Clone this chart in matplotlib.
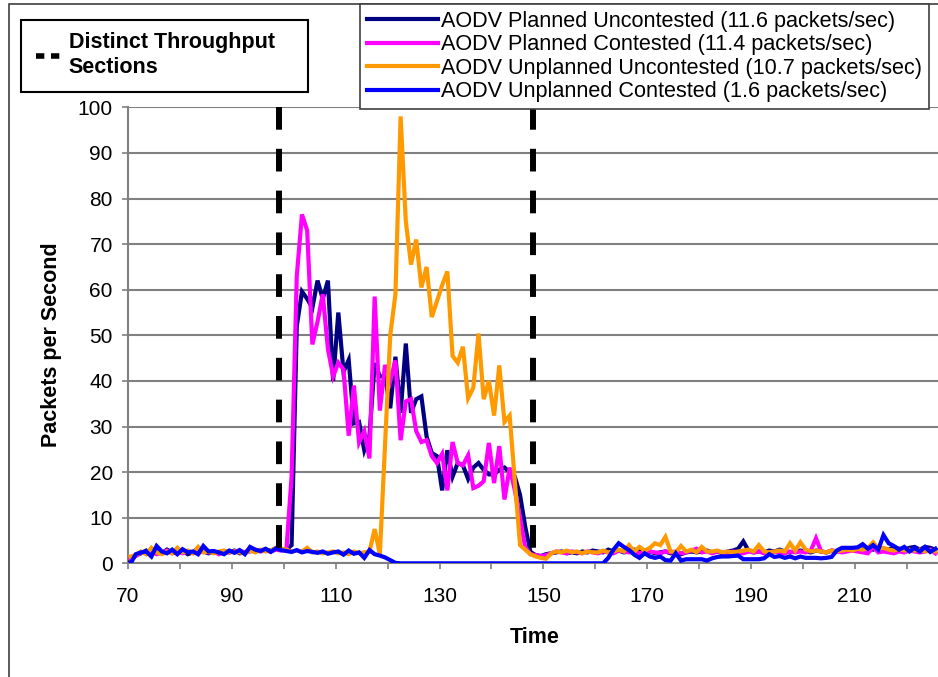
import numpy as np
import matplotlib
matplotlib.use('Agg')
import matplotlib.pyplot as plt
from matplotlib.lines import Line2D
from matplotlib.patches import Rectangle

plt.rcParams['font.family'] = ['Liberation Sans', 'DejaVu Sans']

# sample times (one sample per second, centred between category ticks)
time = np.arange(70.5, 226, 1.0)

# AODV Planned Uncontested
planned_unc = [
    0.5, 1.8, 2.2, 2.8, 2.0, 2.8, 2.2, 3.0, 2.4, 2.2,
    2.8, 2.0, 2.4, 3.4, 2.6, 2.2, 2.6, 2.2, 2.6, 2.4,
    2.8, 2.2, 2.4, 3.0, 2.6, 2.8, 3.0, 2.8, 3.2, 3.0,
    3.0, 4.0, 52, 59.6, 58, 56, 62, 58, 62, 40,
    55, 42, 44.6, 30.7, 31, 24.8, 28, 43.9, 41, 41,
    34, 45.3, 33, 48.2, 33, 36, 36.6, 27.8, 24.2, 23.5,
    16, 24.8, 19, 22, 21.5, 18.5, 21, 22, 20.5, 19.5,
    19.5, 20.5, 21, 20, 19, 15, 8, 2.5, 1.8, 1.6,
    2.0, 2.2, 2.4, 2.6, 2.2, 2.4, 2.2, 2.6, 2.4, 2.8,
    2.6, 2.4, 3.0, 2.6, 2.8, 2.4, 2.6, 3.0, 2.8, 2.4,
    2.6, 2.2, 2.4, 2.6, 2.2, 2.4, 2.0, 2.4, 2.6, 2.4,
    2.6, 2.8, 2.4, 2.6, 2.2, 2.6, 2.8, 3.2, 4.8, 2.8,
    2.4, 2.6, 2.4, 2.8, 2.6, 3.0, 2.6, 2.4, 2.6, 2.8,
    2.6, 2.4, 2.8, 2.6, 2.4, 2.8, 2.6, 3.0, 2.8, 3.2,
    3.0, 3.2, 3.4, 3.0, 3.4, 3.2, 3.0, 3.6, 3.2, 3.0,
    3.4, 3.6, 3.0, 3.6, 3.4, 3.0]

# AODV Planned Contested
planned_con = [
    1.0, 1.6, 2.4, 2.2, 2.6, 2.0, 2.4, 2.8, 2.2, 2.6,
    2.2, 2.6, 2.4, 2.2, 2.8, 2.4, 2.6, 2.0, 2.6, 2.4,
    2.6, 2.8, 2.4, 2.6, 3.0, 2.6, 2.8, 2.6, 3.0, 2.8,
    3.0, 19, 63, 76.5, 73, 48, 53, 59, 47, 41,
    44, 42.5, 28, 39, 26.5, 29, 23, 58.5, 33.5, 43.5,
    40, 44.5, 27, 35.5, 36, 29, 26.6, 27, 23.5, 22,
    24, 16, 26.6, 22, 21.5, 23.7, 16.5, 17, 18, 26.4,
    17.6, 25.7, 14, 21, 16, 10, 3.5, 2.0, 1.8, 1.6,
    1.8, 2.2, 2.6, 2.4, 2.2, 2.6, 2.4, 2.2, 2.6, 2.4,
    2.2, 2.6, 2.4, 2.2, 2.8, 2.6, 2.4, 2.6, 2.2, 2.4,
    2.6, 2.4, 2.2, 2.6, 2.4, 2.6, 2.2, 2.4, 2.8, 3.2,
    2.4, 2.6, 2.2, 2.6, 2.4, 2.2, 2.6, 2.4, 2.2, 2.6,
    2.4, 2.6, 2.2, 2.4, 2.6, 2.4, 2.2, 2.6, 2.4, 2.6,
    2.4, 2.8, 5.5, 2.6, 2.4, 2.8, 2.6, 2.4, 2.6, 2.8,
    2.6, 2.4, 2.2, 3.6, 2.4, 2.6, 2.4, 2.2, 2.6, 2.4,
    2.8, 2.6, 2.4, 2.6, 3.0, 2.2]

# AODV Unplanned Uncontested
unplanned_unc = [
    1.5, 1.8, 2.6, 2.0, 3.4, 2.4, 2.0, 2.6, 2.2, 3.4,
    2.4, 2.8, 2.2, 3.6, 2.4, 2.6, 2.2, 2.6, 2.8, 2.4,
    2.6, 2.4, 2.2, 2.8, 2.4, 3.0, 2.6, 2.8, 3.4, 3.2,
    3.0, 2.6, 2.8, 2.6, 3.4, 2.4, 2.6, 2.2, 2.4, 2.6,
    2.2, 2.4, 2.0, 2.6, 2.2, 2.4, 2.6, 7.5, 2.0, 26,
    50, 59, 98, 75, 65.5, 71, 60.5, 65, 54, 57.5,
    61, 64, 45.5, 44, 47.5, 36.2, 38.5, 50.4, 36, 40,
    32.4, 43.4, 31, 32.4, 18, 4, 3, 2, 1.5, 1.2,
    1.0, 2.2, 2.6, 2.4, 2.8, 2.4, 2.6, 2.2, 2.6, 2.4,
    2.4, 2.8, 2.4, 2.6, 3.0, 2.6, 4.0, 2.6, 3.6, 2.8,
    3.4, 4.4, 4.0, 5.8, 2.6, 2.4, 3.8, 2.6, 3.0, 2.4,
    3.6, 2.6, 2.6, 2.8, 2.4, 2.6, 2.4, 2.6, 2.8, 3.0,
    2.6, 4.0, 2.6, 2.4, 2.6, 2.8, 2.6, 4.4, 2.8, 4.6,
    3.0, 2.6, 2.8, 2.6, 2.4, 2.8, 2.6, 2.8, 3.0, 2.8,
    3.2, 3.0, 3.4, 4.6, 3.2, 3.4, 3.0, 2.8, 3.2, 2.8,
    3.0, 2.8, 3.0, 2.6, 2.8, 2.6]

# AODV Unplanned Contested
unplanned_con = [
    0.0, 2.0, 2.4, 2.6, 1.5, 3.8, 2.6, 2.2, 3.0, 2.0,
    3.1, 2.4, 2.6, 2.0, 3.8, 2.6, 2.7, 2.4, 2.0, 2.8,
    2.3, 2.9, 2.0, 3.6, 3.0, 2.7, 3.2, 2.5, 3.3, 2.9,
    2.7, 2.5, 2.9, 2.4, 2.7, 2.5, 2.3, 2.6, 2.1, 2.4,
    2.6, 1.9, 2.8, 2.1, 2.4, 1.2, 2.9, 2.0, 1.7, 1.3,
    0.7, 0.1, 0, 0, 0, 0, 0, 0, 0, 0,
    0, 0, 0, 0, 0, 0, 0, 0, 0, 0,
    0, 0, 0, 0, 0, 0, 0, 0, 0, 0,
    0, 0, 0, 0, 0, 0, 0, 0, 0, 0,
    0, 0, 1.2, 3.0, 4.4, 3.6, 2.9, 1.9, 1.2, 2.2,
    1.5, 1.2, 1.5, 0.7, 0.6, 2.2, 0.6, 0.9, 0.9, 0.9,
    0.9, 0.6, 1.1, 1.4, 1.5, 1.5, 1.6, 1.7, 0.9, 0.9,
    0.9, 0.9, 1.1, 2.0, 1.4, 1.6, 1.2, 1.5, 1.1, 1.5,
    1.2, 1.2, 1.2, 1.1, 1.2, 1.4, 2.8, 3.4, 3.4, 3.4,
    3.5, 4.2, 3.2, 4.0, 3.0, 6.2, 4.4, 3.8, 3.0, 3.6,
    2.6, 3.4, 2.6, 3.6, 2.5, 3.2]

series_labels = ['AODV Planned Uncontested (11.6 packets/sec)',
                 'AODV Planned Contested (11.4 packets/sec)',
                 'AODV Unplanned Uncontested (10.7 packets/sec)',
                 'AODV Unplanned Contested (1.6 packets/sec)']
series_colors = ['#000080', '#FF00FF', '#FF9900', '#0000FF']

# boundaries of the distinct throughput sections
section_bounds = [99, 148]

fig = plt.figure(figsize=(9.38, 6.77), dpi=100)
ax = fig.add_axes([0.1365, 0.1679, 0.8635, 0.6736])

lines = []
for vals, lab, col in zip([planned_unc, planned_con, unplanned_unc, unplanned_con],
                          series_labels, series_colors):
    ln, = ax.plot(time, vals, color=col, linewidth=3, label=lab, zorder=3,
                  solid_joinstyle='miter')
    lines.append(ln)

ax.vlines(section_bounds, 100, 0, colors='black', linewidth=4.3,
          linestyles=(0, (3.8, 3.2)), zorder=4)

ax.set_xlim(70, 226)
ax.set_ylim(0, 100)
xt = np.arange(70, 227, 10)
ax.set_xticks(xt)
ax.set_xticklabels([str(v) if (v - 70) % 20 == 0 else '' for v in xt])
ax.set_yticks(np.arange(0, 101, 10))
ax.yaxis.grid(True, color='#808080', linewidth=1.5)
ax.set_axisbelow(True)

for s in ['top', 'right']:
    ax.spines[s].set_visible(False)
for s in ['left', 'bottom']:
    ax.spines[s].set_color('#808080')
    ax.spines[s].set_linewidth(1.5)
ax.tick_params(axis='x', direction='out', length=4, width=1.2, color='#808080',
               labelsize=15, pad=13)
ax.tick_params(axis='y', direction='out', length=4, width=1.2, color='#808080',
               labelsize=15, pad=7)

ax.set_xlabel('Time', fontsize=15.5, fontweight='bold')
ax.xaxis.set_label_coords(0.502, -0.14)
ax.set_ylabel('Packets per Second', fontsize=15.5, fontweight='bold')
ax.yaxis.set_label_coords(-0.082, 0.48)

# chart area border
fig.patches.append(Rectangle((9 / 938, -0.1), 1.2, 1.1 - 4 / 677, fill=False,
                             edgecolor='#404040', linewidth=1.2,
                             transform=fig.transFigure, figure=fig))

leg = fig.legend(handles=lines, loc='upper left',
                 bbox_to_anchor=(360 / 938, 1 - 4 / 677), borderaxespad=0,
                 fontsize=15.6, handlelength=3.3, handletextpad=0.15,
                 labelspacing=0.12, borderpad=0.3, fancybox=False,
                 framealpha=1, edgecolor='#404040')
leg.get_frame().set_linewidth(1.2)

# box of the section marker legend
fig.patches.append(Rectangle((21 / 938, 1 - 92 / 677), 287 / 938, 72 / 677,
                             fill=True, facecolor='white', edgecolor='black',
                             linewidth=1.5, transform=fig.transFigure, figure=fig))
sect_handle = Line2D([], [], color='black', linewidth=4, linestyle=(0, (1.5, 1.2)))
leg2 = fig.legend(handles=[sect_handle], labels=['Distinct Throughput\nSections'],
                  loc='upper left', bbox_to_anchor=(30 / 938, 1 - 26 / 677),
                  borderaxespad=0, handlelength=1.3, handletextpad=0.2,
                  borderpad=0.3, frameon=False,
                  prop={'size': 15.5, 'weight': 'bold'})

fig.savefig('out.png', dpi=100)
